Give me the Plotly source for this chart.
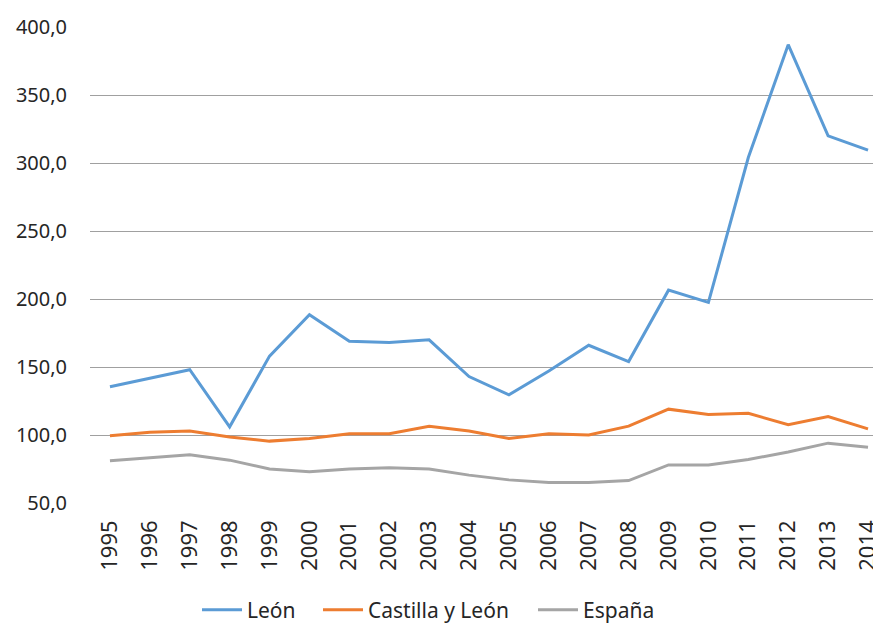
import plotly.graph_objects as go

# datos (índice)
years = [str(y) for y in range(1995, 2015)]
leon = [135.5, 141.5, 148, 106, 158, 188.5, 169, 168, 170, 143,
        129.5, 147, 166, 154, 206.5, 197.5, 304, 387, 320, 309.5]
castilla_leon = [99.5, 102, 103, 98.5, 95.5, 97.5, 101, 101, 106.5, 103,
                 97.5, 101, 100, 106.5, 119, 115, 116, 107.5, 113.5, 104.5]
espana = [81, 83.5, 85.5, 81.5, 75, 73, 75, 76, 75, 70.5,
          67, 65, 65, 66.5, 78, 78, 82, 87.5, 94, 91]

series = [
    ('León', leon, '#5B9BD5', 'legend'),
    ('Castilla y León', castilla_leon, '#ED7D31', 'legend2'),
    ('España', espana, '#A5A5A5', 'legend3'),
]

FONT = 'Noto Sans, Arial, sans-serif'
W, H = 873, 618  # la página deja 8 px de margen en el body

fig = go.Figure()
for name, vals, color, leg in series:
    fig.add_trace(go.Scatter(
        x=years, y=vals, name=name, mode='lines', legend=leg,
        line=dict(color=color, width=3),
    ))

def legend_at(px):
    return dict(
        orientation='h', xref='container', yref='container',
        x=px / W, xanchor='left', y=1 - 602 / H, yanchor='middle',
        font=dict(size=21, color='#262626'),
        itemwidth=40, bgcolor='rgba(0,0,0,0)',
    )

fig.update_layout(
    width=W, height=H,
    margin=dict(l=82, r=0, t=19, b=123),
    paper_bgcolor='white', plot_bgcolor='white',
    separators=',.',
    font=dict(family=FONT, size=20, color='#262626'),
    showlegend=True,
    legend=legend_at(189),
    legend2=legend_at(310),
    legend3=legend_at(525),
    xaxis=dict(
        type='category', range=[-0.5, 19.175],
        tickangle=-90, tickfont=dict(size=22),
        showgrid=False, showline=False, ticks='',
        ticklabelstandoff=12,
    ),
    yaxis=dict(
        range=[50, 400], dtick=50, tickformat='.1f',
        showgrid=True, gridcolor='#A0A0A0', gridwidth=1,
        zeroline=False, showline=False, ticks='',
        ticklabelstandoff=22, tickfont=dict(size=20),
    ),
)

fig.write_html('out.html')
